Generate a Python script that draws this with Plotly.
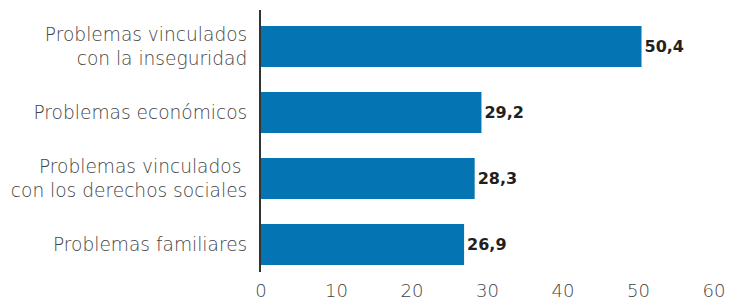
import plotly.graph_objects as go

categories = ["Problemas vinculados<br>con la inseguridad", "Problemas económicos",
              "Problemas vinculados <br>con los derechos sociales", "Problemas familiares"]
values = [50.4, 29.2, 28.3, 26.9]
x_ticks = [0, 10, 20, 30, 40, 50, 60]

FONT = "DejaVu Sans"

fig = go.Figure(go.Bar(
    x=values, y=list(range(len(categories))), orientation="h",
    marker=dict(color="#0474b3", line=dict(width=0)),
    width=0.62,
    text=[f"{v:.1f}".replace(".", ",") for v in values],
    textposition="outside", cliponaxis=False,
    textfont=dict(family=FONT, size=16, color="#231f20", weight=600),
    hoverinfo="skip",
))

fig.update_layout(
    width=730, height=301,
    margin=dict(l=261, r=16, t=10, b=29),
    paper_bgcolor="white", plot_bgcolor="white",
    showlegend=False,
    font=dict(family=FONT, size=18, color="#444444"),
    xaxis=dict(range=[0, 60], tickvals=x_ticks, showgrid=False, zeroline=False,
               showline=False, ticks="outside", ticklen=2, tickcolor="rgba(0,0,0,0)",
               tickfont=dict(size=18, color="#444444", weight=200),
               automargin=False, fixedrange=True),
    yaxis=dict(range=[3.417, -0.553], tickvals=list(range(len(categories))),
               ticktext=categories, showgrid=False, zeroline=False,
               showline=True, linecolor="#333333", linewidth=2,
               ticks="outside", ticklen=8, tickcolor="rgba(0,0,0,0)",
               tickfont=dict(size=18.6, color="#444444", weight=200),
               automargin=False, fixedrange=True),
)

fig.write_html("out.html", config={"displayModeBar": False},
               post_script="document.body.style.margin='0';")
